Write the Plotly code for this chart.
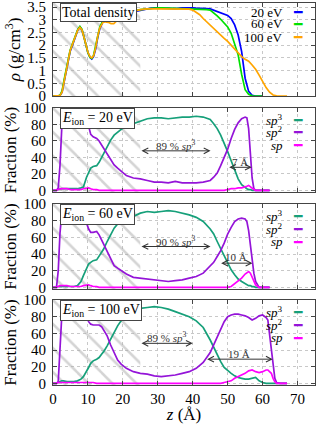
import plotly.graph_objects as go
from plotly.subplots import make_subplots

FONT = "Liberation Serif"

# ---------------- data ----------------
z_dens = [0, 1, 2, 2.6, 3.2, 4, 4.9, 5.7, 6.5, 7.1, 7.7, 8.3, 8.9, 9.5, 10, 10.6, 11.1, 11.6, 12.2, 12.8,
          13.4, 14.2, 15, 15.8, 16.6, 17.4, 18.2, 19, 20, 21, 22, 23.5, 25, 27, 29, 31, 33, 35, 37, 39,
          40, 41, 42, 43, 44, 45, 46, 47, 48, 49, 50, 51, 52, 53, 54, 55, 56, 57, 58, 59,
          60, 61, 62, 63, 64, 65, 67]
rho_20 = [0, 0, 0.02, 0.15, 0.55, 1.15, 1.75, 2.05, 2.35, 2.6, 2.72, 2.6, 2.3, 1.95, 1.7, 1.52, 1.46, 1.55, 1.85, 2.3,
          2.65, 2.9, 2.98, 3.0, 2.97, 2.95, 3.0, 3.07, 3.15, 3.22, 3.28, 3.33, 3.38, 3.43, 3.47, 3.46, 3.43, 3.44, 3.47, 3.48,
          3.47, 3.46, 3.46, 3.45, 3.44, 3.43, 3.38, 3.31, 3.26, 3.22, 3.17, 3.05, 2.8, 2.4, 1.75, 0.7, 0.18, 0.03, 0, 0,
          0, None, None, None, None, None, None]
rho_60 = [0, 0, 0.03, 0.2, 0.65, 1.25, 1.8, 2.1, 2.4, 2.62, 2.74, 2.62, 2.3, 1.95, 1.7, 1.52, 1.48, 1.6, 1.95, 2.4,
          2.72, 2.93, 3.0, 3.02, 3.0, 3.0, 3.07, 3.15, 3.22, 3.28, 3.32, 3.36, 3.4, 3.44, 3.46, 3.47, 3.46, 3.45, 3.45, 3.44,
          3.43, 3.42, 3.41, 3.4, 3.4, 3.38, 3.28, 3.15, 3.02, 2.88, 2.72, 2.47, 2.07, 1.62, 0.85, 0.25, 0.07, 0.01, 0, 0,
          0, None, None, None, None, None, None]
rho_100 = [0, 0, 0.02, 0.15, 0.6, 1.2, 1.78, 2.08, 2.38, 2.6, 2.7, 2.6, 2.3, 1.95, 1.72, 1.55, 1.5, 1.58, 1.9, 2.35,
           2.68, 2.88, 2.92, 2.9, 2.85, 2.85, 2.95, 3.08, 3.18, 3.25, 3.3, 3.35, 3.4, 3.43, 3.43, 3.43, 3.43, 3.42, 3.42, 3.42,
           3.38, 3.3, 3.2, 3.05, 2.92, 2.78, 2.62, 2.5, 2.38, 2.27, 2.15, 2.0, 1.85, 1.67, 1.55, 1.45, 1.37, 1.22, 1.05, 0.82,
           0.58, 0.33, 0.15, 0.04, 0.01, 0, 0]

z_20 = [0, 1, 1.5, 2, 2.5, 3, 4, 5, 6, 7, 8, 8.7, 9.6, 10.2, 10.8, 11.5, 12.5, 13.2, 13.9, 14.5,
        15.5, 16.5, 17.5, 18.5, 19.5, 21, 23, 25, 27, 29, 31, 33, 35, 37, 39, 41, 43, 45, 46, 47,
        48, 49, 50, 51, 52, 53, 54, 55, 55.5, 56, 56.5, 57, 57.5, 58, 59, 60, 62]
sp3_20 = [0, 0, 1, 2, 2, 2, 2, 2, 2, 2, 3, 4, 16, 22, 27, 29, 30, 34, 40, 45,
          53, 61, 67, 71, 74, 78, 81, 84, 87, 88, 88, 87, 88, 89, 89, 90, 89, 86, 81, 75,
          67, 58, 47, 36, 24, 14, 7, 3, 2, 1, 1, 0, 0, 0, 0, 0, 0]
sp2_20 = [0, 0, 3, 30, 75, 95, 97, 96, 95, 94, 93, 92, 88, 78, 68, 65, 63, 60, 55, 51,
          44, 37, 31, 27, 23, 18, 15, 14, 12, 10, 10, 9, 11, 9, 9, 9, 10, 12, 16, 21,
          30, 39, 50, 63, 74, 82, 87, 89, 88, 75, 45, 15, 2, 0, 0, 0, 0]
sp_20 = [0, 0, 1, 2, 2, 2, 2, 1, 1, 1, 1, 2, 3, 3, 2, 1, 1, 0, 0, 0,
         0, 0, 0, 0, 0, 0, 0, 0, 0, 0, 0, 0, 0, 0, 0, 0, 0, 0, 0, 0,
         0, 0, 1, 2, 2, 3, 3, 4, 5, 6, 4, 2, 1, 0, 0, 0, 0]

z_60 = z_20
sp3_60 = [0, 0, 1, 1, 1, 1, 1, 1, 1, 2, 7, 14, 23, 28, 30, 32, 33, 38, 42, 46,
          55, 64, 71, 76, 78, 81, 85, 89, 91, 90, 91, 92, 91, 89, 87, 84, 79, 70, 64, 55,
          46, 37, 28, 21, 15, 10, 7, 4, 3, 2, 2, 1, 1, 0, 0, 0, 0]
sp2_60 = [0, 0, 20, 65, 88, 94, 95, 95, 94, 93, 92, 88, 77, 70, 66, 66, 67, 63, 57, 52,
          43, 34, 26, 23, 20, 16, 12, 11, 10, 9, 8, 7, 8, 9, 11, 13, 17, 25, 30, 37,
          44, 53, 64, 72, 79, 82, 83, 82, 79, 68, 52, 32, 17, 7, 0, 0, 0]
sp_60 = [0, 0, 1, 2, 2, 2, 2, 1, 1, 1, 1, 2, 3, 3, 2, 1, 1, 0, 0, 0,
         0, 0, 0, 0, 0, 0, 0, 0, 0, 0, 0, 0, 0, 0, 0, 0, 0, 0, 0, 0,
         0, 0, 0, 1, 4, 7, 11, 16, 18, 19, 17, 12, 7, 3, 0, 0, 0]

z_100 = [0, 1, 1.5, 2, 2.5, 3, 4, 5, 6, 7, 8, 8.7, 9.6, 10.2, 10.8, 11.5, 12.5, 13.2, 13.9, 14.5,
         15.5, 16.5, 17.5, 18.5, 19.5, 21, 23, 25, 27, 29, 31, 33, 35, 37, 39, 41, 43, 45, 46, 47,
         48, 49, 50, 51, 52, 53, 54, 55, 56, 57, 58, 59, 60, 61, 61.5, 62, 62.5, 63, 63.5, 64,
         65, 67]
sp3_100 = [0, 0, 1, 2, 3, 3, 2, 2, 2, 3, 5, 8, 14, 19, 24, 27, 29, 31, 35, 38,
           45, 53, 62, 69, 75, 82, 88, 90, 91, 92, 91, 89, 86, 83, 80, 75, 67, 52, 43, 34,
           26, 19, 15, 12, 9, 7, 6, 5, 5, 6, 7, 3, 1, 0, 0, 0, 0, 0, 0, 0,
           0, 0]
sp2_100 = [0, 0, 2, 40, 80, 92, 95, 95, 94, 93, 90, 87, 80, 74, 71, 70, 70, 70, 68, 64,
           57, 46, 37, 28, 23, 18, 14, 12, 11, 9, 8, 9, 10, 12, 14, 18, 25, 37, 46, 56,
           66, 74, 80, 82, 83, 83, 82, 81, 79, 76, 78, 81, 82, 79, 76, 58, 40, 18, 6, 1,
           0, 0]
sp_100 = [0, 0, 1, 1, 1, 1, 1, 1, 1, 1, 1, 1, 1, 1, 1, 1, 0, 0, 0, 0,
          0, 0, 0, 0, 0, 0, 0, 0, 0, 0, 0, 0, 0, 0, 0, 0, 0, 0, 0, 0,
          0, 1, 2, 3, 6, 8, 10, 12, 15, 16, 14, 13, 14, 16, 16, 14, 12, 6, 2, 0,
          0, 0]

energies = ["20 eV", "60 eV", "100 eV"]
sp3_avg = ["89", "90", "89"]
widths = ["7", "10", "19"]
hatch_end = 25

# ---------------- styling ----------------
C_E = ["#0000ff", "#00e000", "#ffa500"]
C_SP3, C_SP2, C_SP = "#16a07a", "#9414d8", "#ff00ff"
LW = 1.7

fig = make_subplots(rows=4, cols=1, shared_xaxes=True)
domains = [[0.7565, 1.0], [0.5052, 0.7251], [0.2513, 0.4738], [0.0, 0.2225]]
yranges = [[0, 3.66], [-2, 100], [-2, 100], [-2, 100]]

for i in range(4):
    r = yranges[i]
    fig.add_trace(go.Scatter(x=[0, hatch_end, hatch_end, 0, 0], y=[r[0], r[0], r[1], r[1], r[0]],
                             mode="lines", line=dict(width=0), fill="toself",
                             fillcolor="rgba(0,0,0,0)",
                             fillpattern=dict(shape="\\", fgcolor="#a9a9a9", bgcolor="rgba(0,0,0,0)",
                                              size=17, solidity=0.15),
                             hoverinfo="skip", showlegend=False), row=i + 1, col=1)

for name, ys, c in zip(energies, [rho_20, rho_60, rho_100], C_E):
    fig.add_trace(go.Scatter(x=z_dens, y=ys, mode="lines", name=name, line=dict(color=c, width=LW),
                             showlegend=False), row=1, col=1)

panels = [(z_20, sp3_20, sp2_20, sp_20), (z_60, sp3_60, sp2_60, sp_60), (z_100, sp3_100, sp2_100, sp_100)]
for k, (zz, a, b, c) in enumerate(panels):
    for name, ys, col in [("sp3", a, C_SP3), ("sp2", b, C_SP2), ("sp", c, C_SP)]:
        fig.add_trace(go.Scatter(x=zz, y=ys, mode="lines", name=name, line=dict(color=col, width=LW),
                                 showlegend=False), row=k + 2, col=1)

axis_common = dict(ticks="inside", ticklen=4, tickcolor="#444", mirror="allticks", showline=True,
                   linecolor="#444", linewidth=1, showgrid=True, gridcolor="#c8c8c8", griddash="dot",
                   gridwidth=1, zeroline=False, automargin=False, ticklabeloverflow="allow",
                   tickfont=dict(family=FONT, size=15, color="black"))

for i in range(4):
    sx = "" if i == 0 else str(i + 1)
    fig.layout["xaxis" + sx].update(range=[0, 75], dtick=10, **axis_common)
    fig.layout["yaxis" + sx].update(domain=domains[i], range=yranges[i], ticklabelstandoff=3, **axis_common)

fig.layout.yaxis.update(tickvals=[0, 0.5, 1, 1.5, 2, 2.5, 3, 3.5],
                        title=dict(text="<i>ρ</i> (g/cm<sup>3</sup>)", standoff=2,
                                   font=dict(family=FONT, size=17)))
for i in range(2, 5):
    fig.layout["yaxis" + str(i)].update(dtick=20, title=dict(text="Fraction (%)", standoff=2,
                                                             font=dict(family=FONT, size=17)))
fig.layout.xaxis4.update(title=dict(text="<i>z</i> (Å)", standoff=0, font=dict(family=FONT, size=17)))

ann = []
box = dict(bordercolor="#444", borderwidth=1, borderpad=1, bgcolor="white", showarrow=False,
           font=dict(family=FONT, size=14, color="black"), xanchor="left", yanchor="top")
ann.append(dict(text="Total density", xref="x domain", yref="y domain", x=0.027, y=1.0, **box))
for k, e in enumerate(energies):
    ax = str(k + 2)
    ann.append(dict(text="<i>E</i><sub>ion</sub> = " + e, xref="x" + ax + " domain",
                    yref="y" + ax + " domain", x=0.027, y=1.0, **box))

# legend-like labels (text then line sample)
leg_font = dict(family=FONT, size=13, color="black")
for name, c, yy in zip(energies, C_E, [0.9, 0.775, 0.63]):
    ann.append(dict(text=name, xref="x domain", yref="y domain", x=0.884, y=yy, xanchor="right",
                    yanchor="middle", showarrow=False, font=leg_font))
    ann.append(dict(text="━", xref="x domain", yref="y domain", x=0.934, y=yy, xanchor="center",
                    yanchor="middle", showarrow=False, font=dict(family="DejaVu Sans", size=14, color=c)))
for k in range(3):
    ax = str(k + 2)
    for txt, c, yy in [("<i>sp</i><sup>3</sup>", C_SP3, 0.86), ("<i>sp</i><sup>2</sup>", C_SP2, 0.71),
                       ("<i>sp</i>", C_SP, 0.555)]:
        ann.append(dict(text=txt, xref="x" + ax + " domain", yref="y" + ax + " domain", x=0.884, y=yy,
                        xanchor="right", yanchor="middle", showarrow=False, font=leg_font))
        ann.append(dict(text="━", xref="x" + ax + " domain", yref="y" + ax + " domain", x=0.934, y=yy,
                        xanchor="center", yanchor="middle", showarrow=False,
                        font=dict(family="DejaVu Sans", size=14, color=c)))

# double arrows
arrows = [  # (panel, z0, z1, y, label, label_z, label_y)
    (2, 24.9, 45.1, 48, sp3_avg[0] + " % <i>sp</i><sup>3</sup>", 35, 55),
    (2, 50.0, 56.9, 28, widths[0] + " Å", 53.4, 35),
    (3, 24.9, 45.1, 49, sp3_avg[1] + " % <i>sp</i><sup>3</sup>", 35, 56),
    (3, 47.7, 57.1, 29, widths[1] + " Å", 52.3, 36),
    (4, 24.9, 40.0, 48, sp3_avg[2] + " % <i>sp</i><sup>3</sup>", 32.5, 56),
    (4, 43.7, 62.9, 29, widths[2] + " Å", 53.1, 35),
]
for p, z0, z1, yv, lab, lz, ly in arrows:
    xr, yr = "x" + str(p), "y" + str(p)
    ann.append(dict(x=z1, y=yv, ax=z0, ay=yv, xref=xr, yref=yr, axref=xr, ayref=yr, text="",
                    showarrow=True, arrowhead=5, startarrowhead=5, arrowside="end+start",
                    arrowsize=1.1, startarrowsize=1.1, arrowwidth=1, arrowcolor="#333"))
    ann.append(dict(x=lz, y=ly, xref=xr, yref=yr, text=lab, showarrow=False,
                    font=dict(family=FONT, size=11, color="#333"), xanchor="center", yanchor="middle"))

fig.update_layout(annotations=ann, width=316, height=424,
                  margin=dict(l=53, r=1, t=3, b=39),
                  plot_bgcolor="white", paper_bgcolor="white",
                  font=dict(family=FONT, size=15, color="black"), showlegend=False)

fig.write_html("out.html", config={"displayModeBar": False},
               post_script="document.body.style.margin='0';")
